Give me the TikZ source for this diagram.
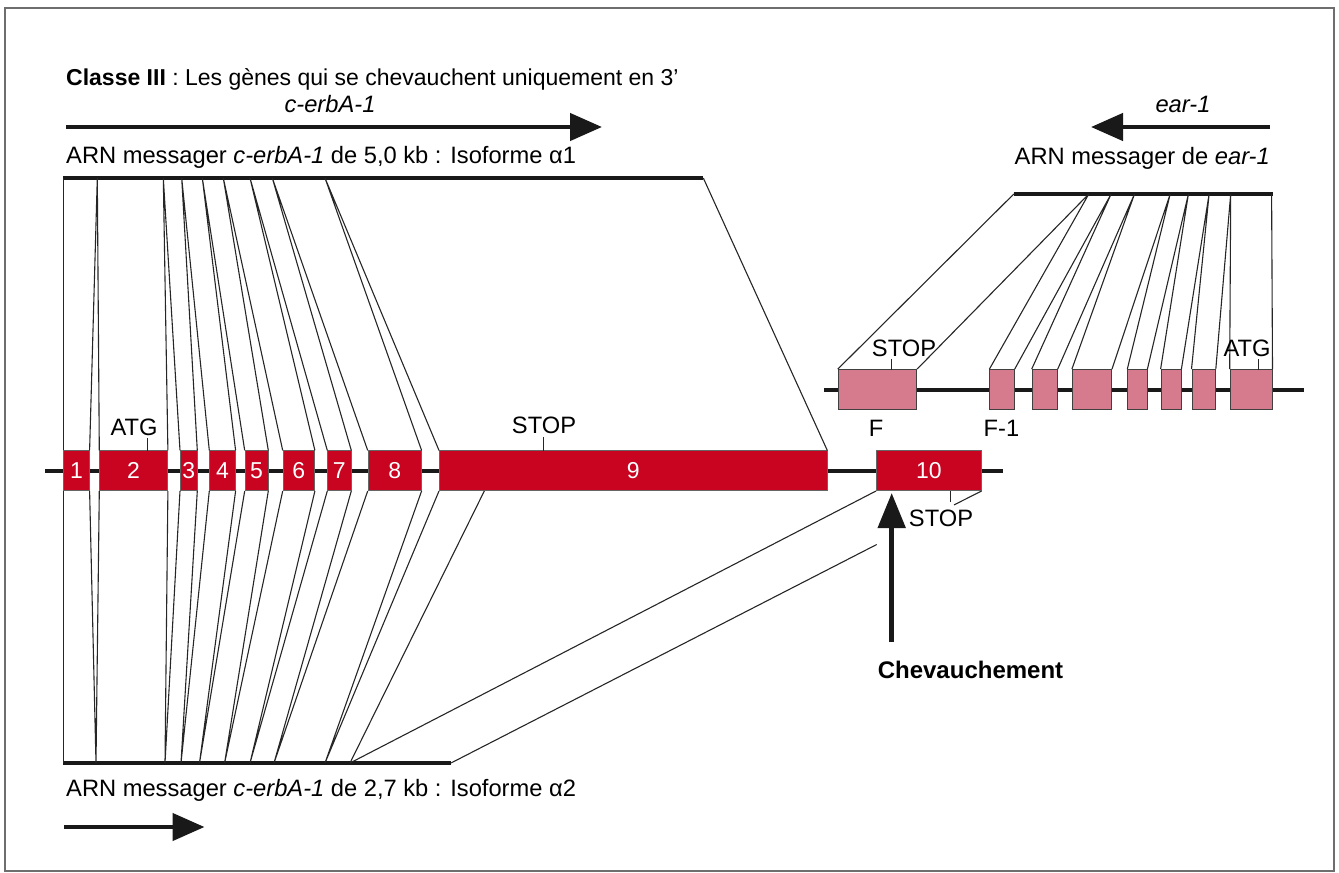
\documentclass[tikz,border=0pt]{standalone}
\usepackage{fontspec}
\setmainfont{Liberation Sans}
\usetikzlibrary{arrows.meta}
\definecolor{exred}{RGB}{200,4,32}
\definecolor{expink}{RGB}{214,122,142}
\definecolor{framegray}{RGB}{110,110,110}
\begin{document}
\begin{tikzpicture}[x=1pt,y=-1pt,
  font=\fontsize{23.7}{27}\selectfont,
  redex/.style={draw=black!60, line width=0.6pt, fill=exred, text=white, minimum height=40pt, inner sep=0pt, anchor=south west, font=\fontsize{23}{26}\selectfont},
  pinkex/.style={draw=black!75, line width=0.9pt, fill=expink, minimum height=40pt, inner sep=0pt, anchor=south west},
  conn/.style={line width=1.1pt, black!85},
  mrna/.style={line width=4pt, black!90},
  dna/.style={line width=4.5pt, black!90},
  bigarrow/.style={line width=4.5pt, black!90, -{Triangle[length=32pt,width=27pt]}},
  tick/.style={line width=1pt, black!85},
  lbl/.style={inner sep=0pt}]
\useasboundingbox (0,0) rectangle (1339,873);
\draw[framegray, line width=1.5pt] (5,8) rectangle (1334,871);

% title
\node[lbl, anchor=base west, font=\fontsize{23}{27}\selectfont] (title) at (66,85) {\textbf{Classe III} : Les gènes qui se chevauchent uniquement en 3'};

% top arrows and labels
\coordinate (a1s) at (66,127);
\coordinate (a1e) at (602,127);
\draw[bigarrow] (a1s) -- (a1e);
\node[lbl] (lab1) at (330,104) {\textit{c-erbA-1}};
\node[lbl, anchor=west] (mr1) at (66,157) {ARN messager \textit{c-erbA-1} de 5,0 kb : Isoforme α1};

\coordinate (a2s) at (1270,127);
\coordinate (a2e) at (1091,127);
\draw[bigarrow] (a2s) -- (a2e);
\node[lbl] (lab2) at (1183,104) {\textit{ear-1}};
\node[lbl, anchor=east] (mr2) at (1270,158) {ARN messager de \textit{ear-1}};

% genomic lines
\coordinate (g1s) at (45,471);
\coordinate (g1e) at (1003,471);
\draw[dna] (g1s) -- (g1e);
\coordinate (g2s) at (824,390);
\coordinate (g2e) at (1304,390);
\draw[dna] (g2s) -- (g2e);

% red exons
\node[redex, minimum width=25.7pt] (e1) at (63.3,491) {1};
\node[redex, minimum width=68pt] (e2) at (99.3,491) {2};
\node[redex, minimum width=16.7pt] (e3) at (180,491) {3};
\node[redex, minimum width=25.7pt] (e4) at (209.3,491) {4};
\node[redex, minimum width=23pt] (e5) at (244.7,491) {5};
\node[redex, minimum width=31.6pt] (e6) at (282.7,491) {6};
\node[redex, minimum width=23.4pt] (e7) at (327.3,491) {7};
\node[redex, minimum width=53.3pt] (e8) at (367.7,491) {8};
\node[redex, minimum width=387.7pt] (e9) at (439,491) {9};
\node[redex, minimum width=105pt] (e10) at (876,491) {10};

% pink exons
\node[pinkex, minimum width=78.4pt] (p1) at (837.8,410) {};
\node[pinkex, minimum width=24.4pt] (p2) at (989.4,410) {};
\node[pinkex, minimum width=25.1pt] (p3) at (1031.7,410) {};
\node[pinkex, minimum width=39.2pt] (p4) at (1071.9,410) {};
\node[pinkex, minimum width=19.2pt] (p5) at (1127.3,410) {};
\node[pinkex, minimum width=19.9pt] (p6) at (1160.6,410) {};
\node[pinkex, minimum width=23.4pt] (p7) at (1191.5,410) {};
\node[pinkex, minimum width=41.9pt] (p8) at (1229.7,410) {};

% mRNA alpha1 (top)
\foreach \n/\x in {0/63.3,1/97.3,2/163.3,3/181.7,4/202.3,5/223.3,6/250,7/272.3,8/325,9/703.3}
  \coordinate (t\n) at (\x,178);
\draw[mrna] (t0) -- (t9);
\draw[conn] (t0) -- (e1.north west);
\draw[conn] (t1) -- (e1.north east) (t1) -- (e2.north west);
\draw[conn] (t2) -- (e2.north east) (t2) -- (e3.north west);
\draw[conn] (t3) -- (e3.north east) (t3) -- (e4.north west);
\draw[conn] (t4) -- (e4.north east) (t4) -- (e5.north west);
\draw[conn] (t5) -- (e5.north east) (t5) -- (e6.north west);
\draw[conn] (t6) -- (e6.north east) (t6) -- (e7.north west);
\draw[conn] (t7) -- (e7.north east) (t7) -- (e8.north west);
\draw[conn] (t8) -- (e8.north east) (t8) -- (e9.north west);
\draw[conn] (t9) -- (e9.north east);

% mRNA alpha2 (bottom)
\foreach \n/\x in {0/63.3,1/96,2/165,3/181,4/199.5,5/224.6,6/250,7/274,8/325,9/350,10/451}
  \coordinate (b\n) at (\x,763);
\draw[mrna] (b0) -- (b10);
\coordinate (e9p) at (484.3,491);
\draw[conn] (e1.south west) -- (b0);
\draw[conn] (e1.south east) -- (b1) (e2.south west) -- (b1);
\draw[conn] (e2.south east) -- (b2) (e3.south west) -- (b2);
\draw[conn] (e3.south east) -- (b3) (e4.south west) -- (b3);
\draw[conn] (e4.south east) -- (b4) (e5.south west) -- (b4);
\draw[conn] (e5.south east) -- (b5) (e6.south west) -- (b5);
\draw[conn] (e6.south east) -- (b6) (e7.south west) -- (b6);
\draw[conn] (e7.south east) -- (b7) (e8.south west) -- (b7);
\draw[conn] (e8.south east) -- (b8) (e9.south west) -- (b8);
\draw[conn] (e9p) -- (b9) (e10.south west) -- (b9);
\coordinate (gapA) at (876.7,544.5);
\coordinate (gapB) at (954,504.9);
\draw[conn] (b10) -- (gapA);
\draw[conn] (gapB) -- (e10.south east);
\node[lbl, anchor=west] (mr3) at (66,790) {ARN messager \textit{c-erbA-1} de 2,7 kb : Isoforme α2};
\coordinate (a3s) at (64,827);
\coordinate (a3e) at (204.5,827);
\draw[bigarrow] (a3s) -- (a3e);

% ear-1 mRNA
\foreach \n/\x in {0/1013.8,1/1088.8,2/1111.1,3/1134.5,4/1170.2,5/1188.4,6/1209.1,7/1230.7,8/1271.6}
  \coordinate (r\n) at (\x,194);
\draw[mrna] (r0) -- ([xshift=1pt]r8);
\draw[conn] (r0) -- (p1.north west);
\draw[conn] (r1) -- (p1.north east) (r1) -- (p2.north west);
\draw[conn] (r2) -- (p2.north east) (r2) -- (p3.north west);
\draw[conn] (r3) -- (p3.north east) (r3) -- (p4.north west);
\draw[conn] (r4) -- (p4.north east) (r4) -- (p5.north west);
\draw[conn] (r5) -- (p5.north east) (r5) -- (p6.north west);
\draw[conn] (r6) -- (p6.north east) (r6) -- (p7.north west);
\draw[conn] (r7) -- (p7.north east) (r7) -- (p8.north west);
\draw[conn] (r8) -- (p8.north east);

% labels and ticks
\node[lbl] (atg1) at (134,427) {ATG};
\draw[tick] (147.3,451) -- (147.3,438);
\node[lbl] (stop1) at (544,425) {STOP};
\draw[tick] (543.3,451) -- (543.3,437);
\node[lbl] (stop2) at (904,348) {STOP};
\draw[tick] (891.8,370) -- (891.8,359);
\node[lbl] (atg2) at (1247,348) {ATG};
\draw[tick] (1258,370) -- (1258,359);
\node[lbl] (lF) at (876,428) {F};
\node[lbl] (lF1) at (1001.5,428) {F-1};
\node[lbl] (stop3) at (941,518) {STOP};
\draw[tick] (950,491) -- (950,502);

% chevauchement
\coordinate (c1) at (891.7,642);
\coordinate (c2) at (891.7,493);
\draw[line width=5pt, black!90, -{Triangle[length=35pt,width=27pt]}] (c1) -- (c2);
\node[lbl, font=\fontsize{24}{28}\selectfont] (chev) at (970.5,670) {\textbf{Chevauchement}};
\end{tikzpicture}
\end{document}
